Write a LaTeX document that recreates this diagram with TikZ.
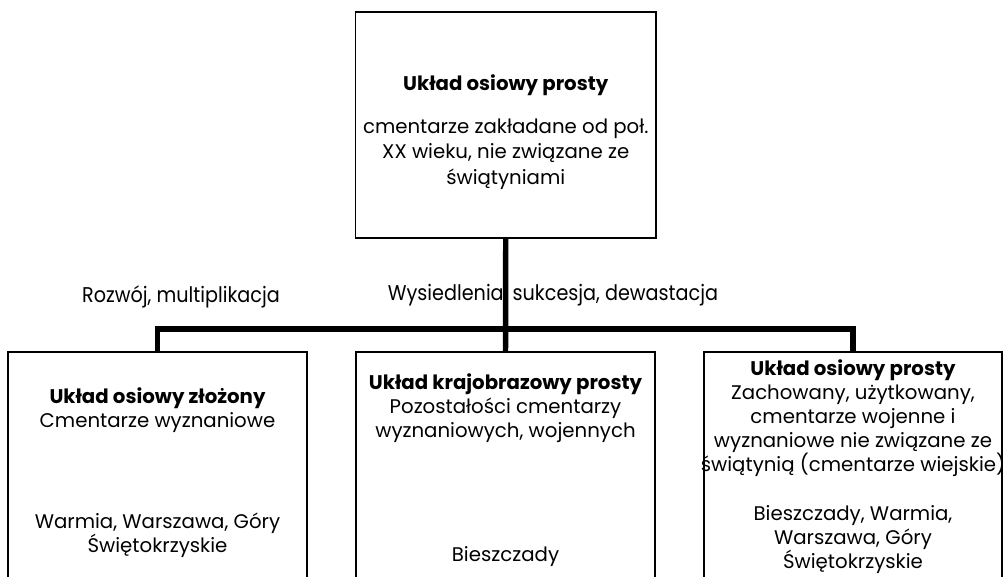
\documentclass[tikz,border=0pt]{standalone}
\usepackage{fontspec}
\setmainfont{Poppins}
\newfontfamily\labelfont[FakeStretch=0.9]{Poppins}
\begin{document}
\begin{tikzpicture}[x=0.75pt,y=-0.75pt,
  box/.style={draw=black,line width=1.1pt,inner sep=0pt,fill=white},
  conn/.style={draw=black,line width=4.1pt,line join=miter,line cap=butt},
  txt/.style={align=center,inner sep=0pt,font=\fontsize{14.8pt}{18pt}\selectfont,anchor=north},
  lbl/.style={inner sep=0pt,font=\labelfont\fontsize{16pt}{18pt}\selectfont}]
\useasboundingbox (0,0) rectangle (1005,577);
\clip (0,0) rectangle (1005,577);
\fill[white] (0,0) rectangle (1005,577);
\coordinate (bar) at (505.5,329);
\node[box,minimum width=225.4pt,minimum height=169.5pt] (top) at (505.75,125) {};
\node[box,minimum width=224.25pt,minimum height=186pt] (left) at (157.5,476) {};
\node[box,minimum width=224.25pt,minimum height=186pt] (mid) at (505.5,476) {};
\node[box,minimum width=223.5pt,minimum height=186pt] (right) at (853,476) {};
\draw[conn] (top.south) -- (mid.north);
\draw[conn] (left.north) -- (left.north |- bar) -- (right.north |- bar) -- (right.north);
\node[txt,font=\fontsize{14.8pt}{19.2pt}\selectfont] (ttop) at (505.75,74) {\textbf{Układ osiowy prosty}\\[13pt]cmentarze zakładane od poł.\\XX wieku, nie związane ze\\świątyniami};
\node[txt] (tleft) at (157.5,387) {\textbf{Układ osiowy złożony}\\Cmentarze wyznaniowe\\[58pt]Warmia, Warszawa, Góry\\Świętokrzyskie};
\node[txt] (tmid) at (505.5,373) {\textbf{Układ krajobrazowy prosty}\\Pozostałości cmentarzy\\wyznaniowych, wojennych\\[75pt]Bieszczady};
\node[txt] (tright) at (853,359) {\textbf{Układ osiowy prosty}\\Zachowany, użytkowany,\\cmentarze wojenne i\\wyznaniowe nie związane ze\\świątynią (cmentarze wiejskie)\\[19pt]Bieszczady, Warmia,\\Warszawa, Góry\\Świętokrzyskie};
\node[lbl] (l1) at (181,297) {Rozwój, multiplikacja};
\node[lbl] (l2) at (553,295) {Wysiedlenia, sukcesja, dewastacja};
\end{tikzpicture}
\end{document}
